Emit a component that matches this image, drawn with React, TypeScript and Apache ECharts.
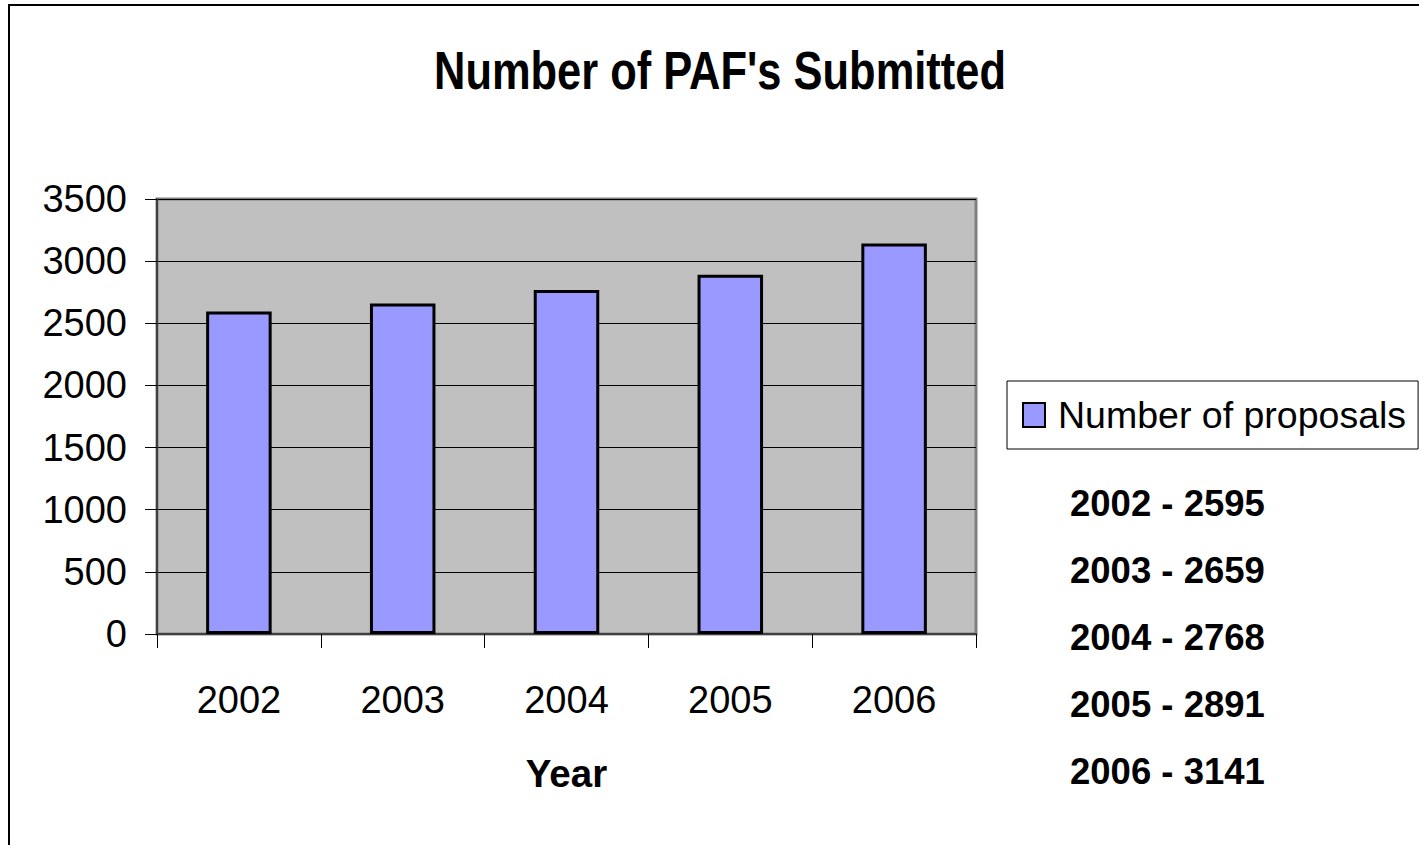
import React, { useEffect, useRef } from "react";
import * as echarts from "echarts";

const categories = ["2002", "2003", "2004", "2005", "2006"];
const proposals = [2595, 2659, 2768, 2891, 3141];
const yTicks = [0, 500, 1000, 1500, 2000, 2500, 3000, 3500];
const seriesName = "Number of proposals";
const titleText = "Number of PAF's Submitted";
const xAxisName = "Year";

const SANS = "'Liberation Sans', Arial, sans-serif";

export default function App() {
  const ref = useRef<HTMLDivElement>(null);
  useEffect(() => {
    if (!ref.current) return;
    const chart = echarts.init(ref.current, null, { renderer: "svg" });
    const noteTexts = categories.map((c, i) => `${c} - ${proposals[i]}`);
    chart.setOption({
      animation: false,
      backgroundColor: "#ffffff",
      legend: {
        data: [seriesName],
        left: 1007,
        top: 381,
        orient: "vertical",
        borderColor: "#000",
        borderWidth: 1,
        padding: [15, 12, 15, 15],
        itemWidth: 22,
        itemHeight: 24,
        icon: "rect",
        textStyle: { fontFamily: SANS, fontSize: 37.5, color: "#000", padding: [0, 0, 0, 8] },
      },
      grid: {
        left: 157,
        top: 199,
        right: 443,
        bottom: 211,
        show: true,
        backgroundColor: "#C0C0C0",
        borderColor: "#808080",
        borderWidth: 3,
      },
      xAxis: {
        type: "category",
        data: categories,
        name: xAxisName,
        nameLocation: "middle",
        nameGap: 120,
        nameTextStyle: { fontFamily: SANS, fontSize: 38.5, fontWeight: "bold", color: "#000" },
        axisLine: { lineStyle: { color: "#404040", width: 2 } },
        axisTick: { show: true, length: 14, lineStyle: { color: "#000", width: 1 } },
        axisLabel: { fontFamily: SANS, fontSize: 38, color: "#000", margin: 47 },
      },
      yAxis: {
        type: "value",
        min: yTicks[0],
        max: yTicks[yTicks.length - 1],
        interval: yTicks[1] - yTicks[0],
        axisLine: { show: true, lineStyle: { color: "#404040", width: 2 } },
        axisTick: { show: true, length: 12, lineStyle: { color: "#000", width: 1 } },
        axisLabel: {
          fontFamily: SANS,
          fontSize: 38,
          color: "#000",
          margin: 30,
          formatter: (v: number) => String(v),
        },
        splitLine: { show: true, lineStyle: { color: "#000", width: 1 } },
      },
      series: [
        {
          type: "bar",
          name: seriesName,
          data: proposals,
          barWidth: "40%",
          itemStyle: { color: "#9999FF", borderColor: "#000", borderWidth: 3 },
        },
      ],
      graphic: [
        {
          type: "rect",
          shape: { x: 9, y: 5, width: 1500, height: 1000 },
          style: { fill: "none", stroke: "#000", lineWidth: 2 },
          silent: true,
        },
        {
          type: "text",
          x: 720,
          y: 70,
          scaleX: 0.82,
          style: {
            text: titleText,
            fontFamily: SANS,
            fontSize: 53,
            fontWeight: "bold",
            fill: "#000",
            align: "center",
            verticalAlign: "middle",
            textAlign: "center",
            textVerticalAlign: "middle",
          },
        },
        ...noteTexts.map((t, i) => ({
          type: "text",
          x: 1070,
          y: 503 + i * 67.2,
          style: {
            text: t,
            fontFamily: SANS,
            fontSize: 36.5,
            fontWeight: "bold",
            fill: "#000",
            align: "left",
            verticalAlign: "middle",
            textAlign: "left",
            textVerticalAlign: "middle",
          },
        })),
      ],
    });
    return () => chart.dispose();
  }, []);
  return (
    <div
      ref={ref}
      style={{ position: "absolute", left: 0, top: 0, width: 1419, height: 845 }}
    />
  );
}
